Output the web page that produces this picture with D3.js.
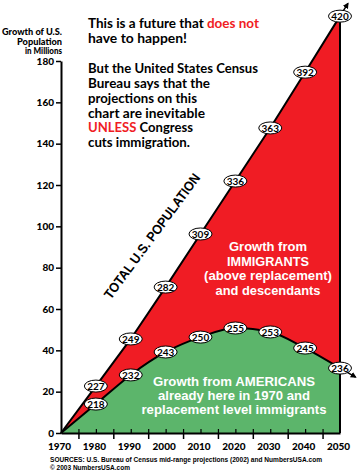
<!DOCTYPE html>
<html><head><meta charset="utf-8">
<script src="https://cdn.jsdelivr.net/npm/d3@7"></script>
<style>html,body{margin:0;padding:0;background:#fff;}svg{display:block;}</style>
</head><body>
<script>
// ---- data ----
const years = [1970, 1980, 1990, 2000, 2010, 2020, 2030, 2040, 2050];
// growth (millions above 1970) as drawn on the chart
const totalGrowth = [0, 22.7, 45.5, 70.6, 96.3, 121.9, 147.6, 174.6, 201.7];
const americansGrowth = [0, 14.0, 28.1, 39.2, 46.4, 50.8, 48.9, 41.1, 31.4];
// population labels (millions)
const totalLabels = [null, 227, 249, 282, 309, 336, 363, 392, 420];
const americansLabels = [null, 218, 232, 243, 250, 255, 253, 245, 236];
const yTicks = [0, 20, 40, 60, 80, 100, 120, 140, 160, 180];
const xLabelYears = [1970, 1980, 1990, 2000, 2010, 2020, 2030, 2040, 2050];
const xMidTicks = [1975, 1985, 1995, 2005, 2015, 2025, 2035, 2045];
const xMinorTicks = [1975, 1980, 1985, 1990, 1995, 2000, 2005, 2010, 2015, 2020, 2025, 2030, 2035, 2040, 2045];

const RED = "#f01c24", GREEN = "#5cb56b";
const NARROW = "'Liberation Sans Narrow', 'Liberation Sans', Arial, sans-serif";
const W = 357, H = 471;
const svg = d3.select("body").append("svg").attr("width", W).attr("height", H);

const x = d3.scaleLinear().domain([1970, 2050]).range([61, 340]);
const y = d3.scaleLinear().domain([0, 180]).range([433, 61]);

const totalPts = years.map((yr, i) => ({yr, v: totalGrowth[i], lab: totalLabels[i]}));
const amerPts = years.map((yr, i) => ({yr, v: americansGrowth[i], lab: americansLabels[i]}));

// red area (total down to 0)
svg.append("path").datum(totalPts)
  .attr("d", d3.area().x(d => x(d.yr)).y0(y(0)).y1(d => y(d.v)))
  .attr("fill", RED);
// green area
const gCurve = d3.curveMonotoneX;
svg.append("path").datum(amerPts)
  .attr("d", d3.area().curve(gCurve).x(d => x(d.yr)).y0(y(0)).y1(d => y(d.v)))
  .attr("fill", GREEN);

// arrow marker
const defs = svg.append("defs");
defs.append("marker").attr("id", "arr").attr("viewBox", "0 0 10 10")
  .attr("refX", 8).attr("refY", 5).attr("markerWidth", 4).attr("markerHeight", 4)
  .attr("orient", "auto")
  .append("path").attr("d", "M0,0 L10,5 L0,10 Z").attr("fill", "#000");

// lines
svg.append("path").datum(totalPts)
  .attr("d", d3.line().x(d => x(d.yr)).y(d => y(d.v)))
  .attr("fill", "none").attr("stroke", "#000").attr("stroke-width", 2);
svg.append("path").datum(amerPts)
  .attr("d", d3.line().curve(gCurve).x(d => x(d.yr)).y(d => y(d.v)))
  .attr("fill", "none").attr("stroke", "#000").attr("stroke-width", 2);

// arrows extending the lines
function extArrow(pts, len) {
  const a = pts[pts.length - 2], b = pts[pts.length - 1];
  const dx = x(b.yr) - x(a.yr), dy = y(b.v) - y(a.v);
  const n = Math.hypot(dx, dy);
  svg.append("line")
    .attr("x1", x(b.yr)).attr("y1", y(b.v))
    .attr("x2", x(b.yr) + dx / n * len).attr("y2", y(b.v) + dy / n * len)
    .attr("stroke", "#000").attr("stroke-width", 1.5).attr("marker-end", "url(#arr)");
}
extArrow(totalPts, 15);
extArrow(amerPts, 18);

// right border
svg.append("line").attr("x1", x(2050)).attr("x2", x(2050))
  .attr("y1", y(totalGrowth[totalGrowth.length - 1])).attr("y2", y(0))
  .attr("stroke", "#000").attr("stroke-width", 2);

// y axis
const yAx = svg.append("g").attr("transform", `translate(${x(1970)},0)`)
  .call(d3.axisLeft(y).tickValues(yTicks).tickSize(5).tickSizeOuter(0).tickPadding(2));
yAx.select(".domain").attr("stroke-width", 2);
yAx.selectAll(".tick line").attr("stroke-width", 1.5);
yAx.selectAll("text").attr("font-family", "Lato, sans-serif").attr("font-weight", 900)
  .attr("font-size", 10).attr("fill", "#000");

// x axis
const xAx = svg.append("g").attr("transform", `translate(0,${y(0)})`)
  .call(d3.axisBottom(x).tickValues(xMidTicks).tickSize(6).tickSizeOuter(0).tickFormat(""));
xAx.select(".domain").attr("stroke-width", 2);
xAx.selectAll(".tick line").attr("stroke-width", 1.5);
const xAxUp = svg.append("g").attr("transform", `translate(0,${y(0)})`)
  .call(d3.axisTop(x).tickValues(xMinorTicks).tickSize(4).tickSizeOuter(0).tickFormat(""));
xAxUp.select(".domain").remove();
xAxUp.selectAll(".tick line").attr("stroke-width", 1.2);
const xLab = svg.append("g").attr("transform", `translate(-2,${y(0)})`)
  .call(d3.axisBottom(x).tickValues(xLabelYears).tickSize(0).tickPadding(10).tickFormat(d3.format("d")));
xLab.select(".domain").remove();
xLab.selectAll("text").attr("font-family", "Lato, sans-serif").attr("font-weight", 900)
  .attr("font-size", 10).attr("fill", "#000");

// ellipse labels
function ovals(pts) {
  const g = svg.append("g").selectAll("g").data(pts.filter(d => d.lab != null)).join("g")
    .attr("transform", d => `translate(${x(d.yr)},${y(d.v)})`);
  g.append("ellipse").attr("rx", 11.5).attr("ry", 6).attr("fill", "#fff")
    .attr("stroke", "#000").attr("stroke-width", 1);
  g.append("text").text(d => d.lab).attr("text-anchor", "middle").attr("dy", "0.36em")
    .attr("font-family", "Lato, sans-serif").attr("font-weight", 700).attr("font-size", 10);
}
ovals(totalPts);
ovals(amerPts);

// y axis title
[["Growth of U.S.", 35, 60], ["Population", 44.5, 45], ["in Millions", 54, 37]].forEach(([t, yy, w]) =>
  svg.append("text").attr("x", 62 - w).attr("y", yy).attr("font-family", "Lato, sans-serif")
    .attr("font-weight", 900).attr("font-size", 8.5)
    .attr("textLength", w).attr("lengthAdjust", "spacingAndGlyphs").text(t));

// headline text
const head = [
  [["This is a future that ", "#000"], ["does not", RED]],
  [["have to happen!", "#000"]],
  [["But the United States Census", "#000"]],
  [["Bureau says that the", "#000"]],
  [["projections on this", "#000"]],
  [["chart are inevitable", "#000"]],
  [["UNLESS", RED], [" Congress", "#000"]],
  [["cuts immigration.", "#000"]]
];
const headY = [28, 43, 73, 88, 102.5, 117.5, 132, 147];
const headW = [171, 99, 170, 122, 109, 117, 105, 102];
head.forEach((parts, i) => {
  const t = svg.append("text").attr("x", 88).attr("y", headY[i])
    .attr("font-family", "Lato, sans-serif").attr("font-weight", 700).attr("font-size", 13.5)
    .attr("textLength", headW[i]).attr("lengthAdjust", "spacingAndGlyphs");
  parts.forEach(([s, c]) => t.append("tspan").attr("fill", c).text(s));
});

// region labels
function block(lines, cx, ys, ws, size) {
  lines.forEach((s, i) => svg.append("text").attr("x", cx).attr("y", ys[i])
    .attr("text-anchor", "middle").attr("fill", "#fff")
    .attr("font-family", NARROW).attr("font-weight", 700)
    .attr("font-size", size).attr("textLength", ws[i]).attr("lengthAdjust", "spacingAndGlyphs").text(s));
}
block(["Growth from", "IMMIGRANTS", "(above replacement)", "and descendants"], 268,
  [251, 265.5, 280, 294.5], [78, 82, 128, 105], 13);
block(["Growth from AMERICANS", "already here in 1970 and", "replacement level immigrants"], 234,
  [386, 400, 414], [162, 152, 185], 13);

// total population diagonal label
svg.append("text").attr("transform", "translate(152,236) rotate(-53.6)")
  .attr("text-anchor", "middle").attr("dy", "0.35em")
  .attr("font-family", NARROW).attr("font-weight", 700)
  .attr("font-size", 13.5).attr("textLength", 152).attr("lengthAdjust", "spacingAndGlyphs")
  .text("TOTAL U.S. POPULATION");

// sources
svg.append("text").attr("x", 50).attr("y", 462)
  .attr("font-family", NARROW).attr("font-weight", 700)
  .attr("font-size", 7).attr("textLength", 272).attr("lengthAdjust", "spacingAndGlyphs")
  .text("SOURCES: U.S. Bureau of Census mid-range projections (2002) and NumbersUSA.com");
svg.append("text").attr("x", 50).attr("y", 470)
  .attr("font-family", NARROW).attr("font-weight", 700)
  .attr("font-size", 7).attr("textLength", 80).attr("lengthAdjust", "spacingAndGlyphs")
  .text("© 2003 NumbersUSA.com");
</script>
</body></html>
